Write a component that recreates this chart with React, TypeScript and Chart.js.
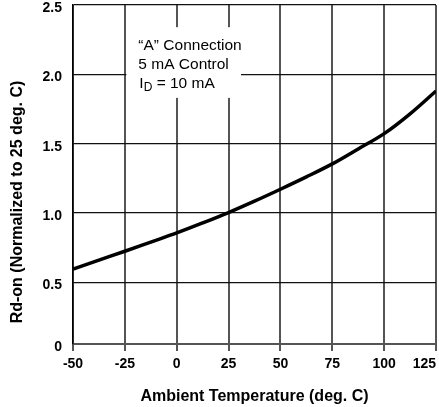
import React, { useEffect, useRef } from "react";
import { Chart, registerables } from "chart.js";

Chart.register(...registerables);

// ---- data ----
const temperatures = [-50, -37.5, -25, -12.5, 0, 12.5, 25, 37.5, 50, 62.5, 75, 87.5, 100, 112.5, 125];
const rdOn = [0.595, 0.66, 0.724, 0.79, 0.856, 0.928, 1.003, 1.085, 1.171, 1.26, 1.354, 1.462, 1.572, 1.715, 1.88];

const xTickValues = [-50, -25, 0, 25, 50, 75, 100, 125];
const xTickLabels = ["-50", "-25", "0", "25", "50", "75", "100", "125"];
const yTickValues = [0, 0.5, 1, 1.5, 2, 2.5];
const yTickLabels = ["0", "0.5", "1.0", "1.5", "2.0", "2.5"];

const xTitle = "Ambient Temperature (deg. C)";
const yTitle = "Rd-on (Normalized to 25 deg. C)";
const noteLines = ["\u201CA\u201D Connection", "5 mA Control"];
const noteLastMain = "I";
const noteLastSub = "D";
const noteLastRest = " = 10 mA";

// the drawn x-axis sits slightly above the zero level in the reference
const Y_MIN = 0.055;
const Y_MAX = 2.5;
const FONT = "'Liberation Sans', Arial, Helvetica, sans-serif";

const yTitlePlugin = {
  id: "yTitleDraw",
  afterDraw(chart: any) {
    const ctx = chart.ctx;
    ctx.save();
    ctx.translate(18, 202);
    ctx.rotate(-Math.PI / 2);
    ctx.font = `bold 16px ${FONT}`;
    ctx.fillStyle = "#000";
    ctx.textAlign = "center";
    ctx.textBaseline = "middle";
    ctx.fillText(yTitle, 0, 0);
    ctx.restore();
  },
};

const notePlugin = {
  id: "noteBox",
  beforeDatasetsDraw(chart: any) {
    const ctx = chart.ctx;
    const xs = chart.scales.x;
    const ys = chart.scales.y;
    // box anchored in data space
    const left = xs.getPixelForValue(-25) + 1.5;
    const right = xs.getPixelForValue(31);
    const top = ys.getPixelForValue(2.34);
    const bottom = ys.getPixelForValue(1.83);
    ctx.save();
    ctx.fillStyle = "#fff";
    ctx.fillRect(left, top, right - left, bottom - top);
    ctx.fillStyle = "#000";
    ctx.textAlign = "left";
    ctx.textBaseline = "alphabetic";
    ctx.font = `15.5px ${FONT}`;
    const tx = left + 12;
    ctx.fillText(noteLines[0], tx, top + 22.5);
    ctx.fillText(noteLines[1], tx, top + 41.5);
    const by = top + 61;
    ctx.fillText(noteLastMain, tx + 1, by);
    const w1 = ctx.measureText(noteLastMain).width;
    ctx.font = `12px ${FONT}`;
    ctx.fillText(noteLastSub, tx + 1 + w1, by + 3);
    const w2 = ctx.measureText(noteLastSub).width;
    ctx.font = `15.5px ${FONT}`;
    ctx.fillText(noteLastRest, tx + 1 + w1 + w2, by);
    ctx.restore();
  },
};

export default function App() {
  const ref = useRef<HTMLCanvasElement | null>(null);

  useEffect(() => {
    if (!ref.current) return;
    const chart = new Chart(ref.current, {
      type: "line",
      data: {
        datasets: [
          {
            data: temperatures.map((t, i) => ({ x: t, y: rdOn[i] })),
            borderColor: "#000",
            borderWidth: 3.5,
            pointRadius: 0,
            fill: false,
            cubicInterpolationMode: "monotone",
          },
        ],
      },
      options: {
        animation: false,
        responsive: false,
        devicePixelRatio: 1,
        layout: { padding: { left: 0, right: 3, top: 5, bottom: 0 } },
        plugins: { legend: { display: false }, tooltip: { enabled: false } },
        scales: {
          x: {
            type: "linear",
            min: -50,
            max: 125,
            afterBuildTicks: (scale: any) => {
              scale.ticks = xTickValues.map((v) => ({ value: v }));
            },
            afterFit: (scale: any) => {
              scale.height = 63;
              scale.paddingLeft = 0;
              scale.paddingRight = 0;
            },
            ticks: {
              callback: (_v: any, i: number) =>
                i === xTickLabels.length - 1 ? xTickLabels[i] + "      " : xTickLabels[i],
              color: "#000",
              font: { family: FONT, size: 14, weight: "bold" },
              padding: 5,
              maxRotation: 0,
              autoSkip: false,
            },
            grid: {
              color: "#555",
              lineWidth: 2,
              drawTicks: true,
              tickLength: 7,
              tickColor: "#555",
            },
            border: { display: true, color: "#555", width: 2 },
            title: {
              display: true,
              text: xTitle,
              color: "#000",
              font: { family: FONT, size: 16, weight: "bold" },
              padding: { top: 0, bottom: 1 },
            },
          },
          y: {
            type: "linear",
            min: Y_MIN,
            max: Y_MAX,
            afterBuildTicks: (scale: any) => {
              scale.ticks = yTickValues.map((v) => ({ value: Math.max(v, Y_MIN) }));
            },
            afterFit: (scale: any) => {
              scale.width = 73;
              scale.paddingTop = 0;
              scale.paddingBottom = 0;
            },
            ticks: {
              callback: (_v: any, i: number) => yTickLabels[i],
              color: "#000",
              font: { family: FONT, size: 14, weight: "bold" },
              padding: 11,
              labelOffset: 3,
              autoSkip: false,
            },
            grid: {
              color: "#111",
              lineWidth: 1.3,
              drawTicks: false,
            },
            border: { display: true, color: "#000", width: 1.5 },
          },
        },
      },
      plugins: [notePlugin, yTitlePlugin],
    } as any);
    return () => chart.destroy();
  }, []);

  return (
    <div style={{ position: "fixed", left: 0, top: 0, width: 439, height: 407, background: "#fff" }}>
      <canvas ref={ref} width={439} height={407} style={{ display: "block" }} />
    </div>
  );
}
